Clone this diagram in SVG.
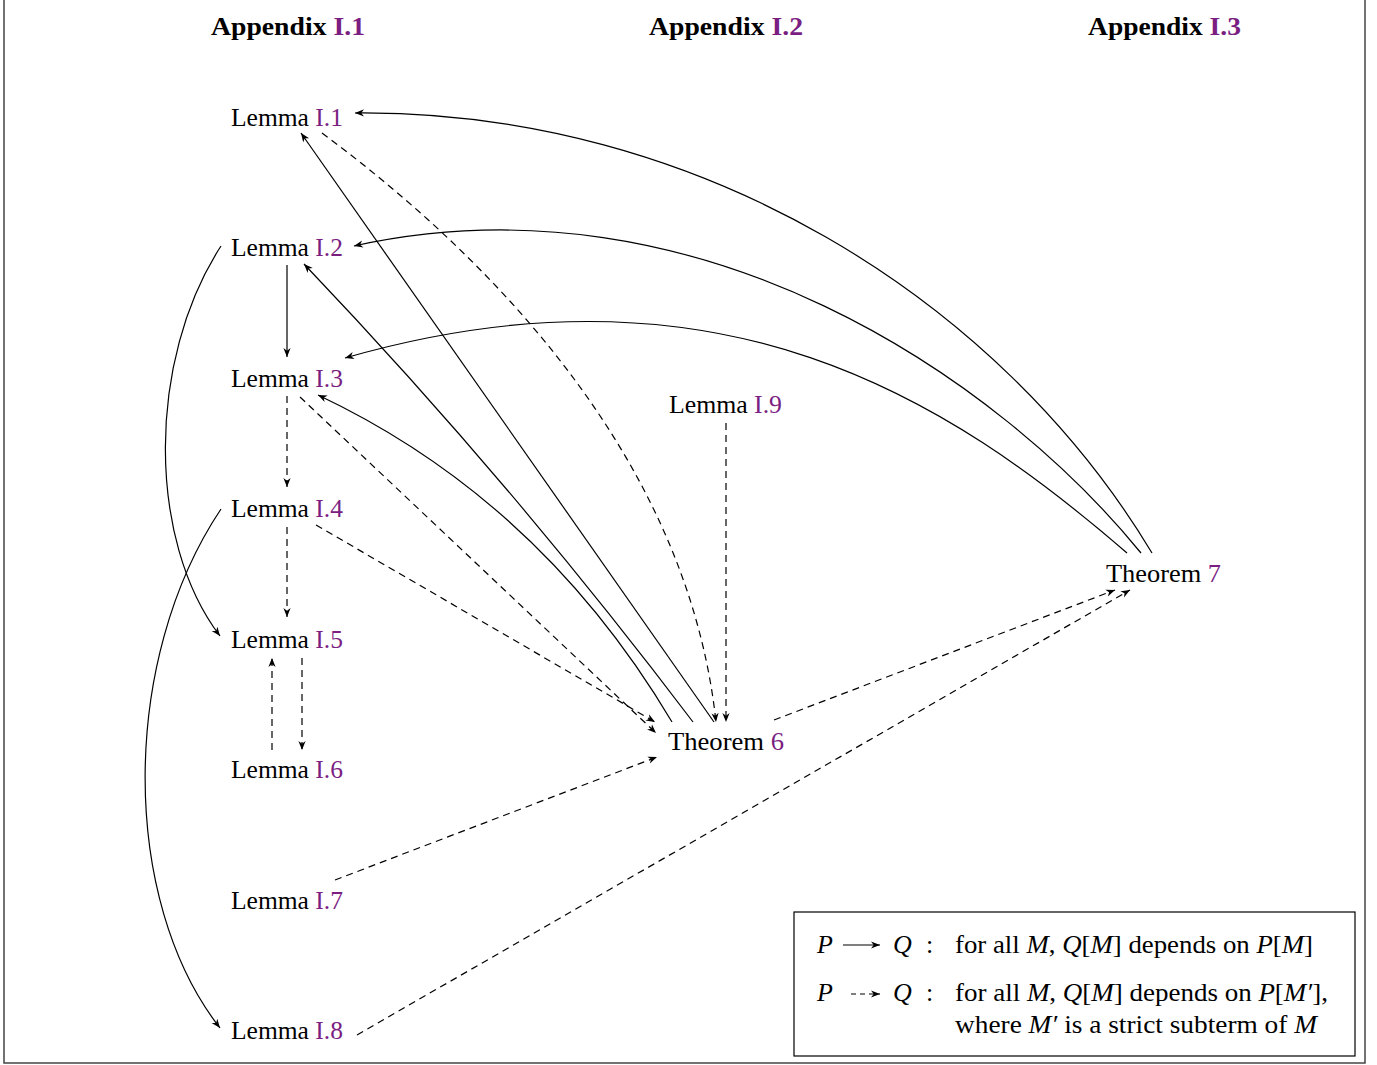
<svg xmlns="http://www.w3.org/2000/svg" width="1377" height="1065" viewBox="0 0 1377 1065">
<defs>
<style>
text{font-family:"Liberation Serif","DejaVu Serif",serif;font-size:26px;fill:#000}
.hd{font-weight:bold;font-size:26px}
.ref{fill:#7b1e82}
.it{font-style:italic}
.e{fill:none;stroke:#000;stroke-width:1.2}
.d{stroke-dasharray:7 5}
</style>
<marker id="ah" viewBox="0 0 10 10" refX="10" refY="5" markerWidth="9" markerHeight="9" markerUnits="userSpaceOnUse" orient="auto">
<path d="M0,1 L10,5 L0,9 L3,5 z" fill="#000" stroke="none"/>
</marker>
</defs>
<rect x="4" y="-2" width="1361" height="1065" fill="#fff" stroke="#444" stroke-width="1.5"/>

<g id="headers">
<text class="hd" x="211" y="35" textLength="154" lengthAdjust="spacingAndGlyphs">Appendix <tspan class="ref">I.1</tspan></text>
<text class="hd" x="649" y="35" textLength="154" lengthAdjust="spacingAndGlyphs">Appendix <tspan class="ref">I.2</tspan></text>
<text class="hd" x="1088" y="35" textLength="153" lengthAdjust="spacingAndGlyphs">Appendix <tspan class="ref">I.3</tspan></text>
</g>

<g id="connectors">
<path class="e" marker-end="url(#ah)" d="M1152,553 C1000,300 700,110 355,113"/>
<path class="e" marker-end="url(#ah)" d="M1141,553 C1000,380 700,170 354,246"/>
<path class="e" marker-end="url(#ah)" d="M1127,553 C950,400 720,250 345,358"/>
<path class="e" marker-end="url(#ah)" d="M714,722 L301,133"/>
<path class="e" marker-end="url(#ah)" d="M693,722 Q510,480 304,264"/>
<path class="e" marker-end="url(#ah)" d="M672,722 Q540,500 318,395"/>
<path class="e" marker-end="url(#ah)" d="M287,265 L287,357"/>
<path class="e" marker-end="url(#ah)" d="M221,246 C147,360 147,540 220,636"/>
<path class="e" marker-end="url(#ah)" d="M221,509 C120,660 120,900 220,1028"/>
<path class="e d" marker-end="url(#ah)" d="M322,133 C520,280 690,480 716,722"/>
<path class="e d" marker-end="url(#ah)" d="M287,396 L287,487"/>
<path class="e d" marker-end="url(#ah)" d="M300,397 L656,733"/>
<path class="e d" marker-end="url(#ah)" d="M287,527 L287,617"/>
<path class="e d" marker-end="url(#ah)" d="M316,525 L655,722"/>
<path class="e d" marker-end="url(#ah)" d="M272,750 L272,658"/>
<path class="e d" marker-end="url(#ah)" d="M302,658 L302,750"/>
<path class="e d" marker-end="url(#ah)" d="M335,880 L657,757"/>
<path class="e d" marker-end="url(#ah)" d="M357,1035 L1130,590"/>
<path class="e d" marker-end="url(#ah)" d="M774,720 L1115,590"/>
<path class="e d" marker-end="url(#ah)" d="M726,423 L726,722"/>
</g>

<g id="lemma-I1"><text x="231" y="126" textLength="112" lengthAdjust="spacingAndGlyphs">Lemma <tspan class="ref">I.1</tspan></text></g>
<g id="lemma-I2"><text x="231" y="256" textLength="112" lengthAdjust="spacingAndGlyphs">Lemma <tspan class="ref">I.2</tspan></text></g>
<g id="lemma-I3"><text x="231" y="387" textLength="112" lengthAdjust="spacingAndGlyphs">Lemma <tspan class="ref">I.3</tspan></text></g>
<g id="lemma-I4"><text x="231" y="517" textLength="112" lengthAdjust="spacingAndGlyphs">Lemma <tspan class="ref">I.4</tspan></text></g>
<g id="lemma-I5"><text x="231" y="648" textLength="112" lengthAdjust="spacingAndGlyphs">Lemma <tspan class="ref">I.5</tspan></text></g>
<g id="lemma-I6"><text x="231" y="778" textLength="112" lengthAdjust="spacingAndGlyphs">Lemma <tspan class="ref">I.6</tspan></text></g>
<g id="lemma-I7"><text x="231" y="909" textLength="112" lengthAdjust="spacingAndGlyphs">Lemma <tspan class="ref">I.7</tspan></text></g>
<g id="lemma-I8"><text x="231" y="1039" textLength="112" lengthAdjust="spacingAndGlyphs">Lemma <tspan class="ref">I.8</tspan></text></g>
<g id="lemma-I9"><text x="669" y="413" textLength="113" lengthAdjust="spacingAndGlyphs">Lemma <tspan class="ref">I.9</tspan></text></g>
<g id="theorem-6"><text x="668" y="750" textLength="116" lengthAdjust="spacingAndGlyphs">Theorem <tspan class="ref">6</tspan></text></g>
<g id="theorem-7"><text x="1106" y="582" textLength="115" lengthAdjust="spacingAndGlyphs">Theorem <tspan class="ref">7</tspan></text></g>

<g id="legend">
<rect x="794" y="912" width="561" height="144" fill="#fff" stroke="#000" stroke-width="1.2"/>
<text class="it" x="817" y="953">P</text>
<path class="e" marker-end="url(#ah)" d="M843,945 L880,945"/>
<text class="it" x="893" y="953">Q</text>
<text x="926" y="953">:</text>
<text x="955" y="953" textLength="358" lengthAdjust="spacingAndGlyphs">for all <tspan class="it">M</tspan>, <tspan class="it">Q</tspan>[<tspan class="it">M</tspan>] depends on <tspan class="it">P</tspan>[<tspan class="it">M</tspan>]</text>
<text class="it" x="817" y="1001">P</text>
<path class="e d" marker-end="url(#ah)" d="M851,994 L880,994" style="stroke-dasharray:5 4"/>
<text class="it" x="893" y="1001">Q</text>
<text x="926" y="1001">:</text>
<text x="955" y="1001" textLength="373" lengthAdjust="spacingAndGlyphs">for all <tspan class="it">M</tspan>, <tspan class="it">Q</tspan>[<tspan class="it">M</tspan>] depends on <tspan class="it">P</tspan>[<tspan class="it">M′</tspan>],</text>
<text x="955" y="1033" textLength="362" lengthAdjust="spacingAndGlyphs">where <tspan class="it">M′</tspan> is a strict subterm of <tspan class="it">M</tspan></text>
</g>
</svg>
